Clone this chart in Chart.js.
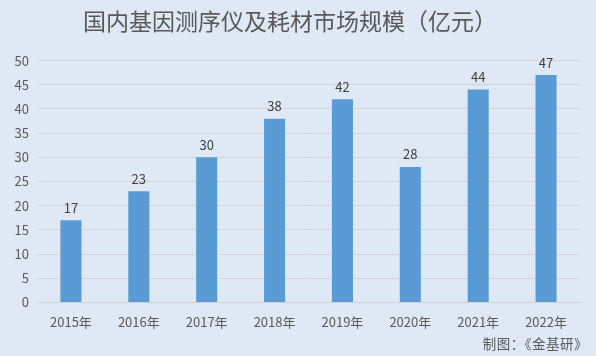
<!DOCTYPE html>
<html><head><meta charset="utf-8">
<script src="https://cdn.jsdelivr.net/npm/chart.js@4/dist/chart.umd.min.js"></script>
<style>
html,body{margin:0;padding:0;background:#dfe9f5;}
#wrap{position:relative;width:596px;height:356px;}
#foot{position:absolute;right:8px;top:333px;font:13.5px "Noto Sans CJK SC",sans-serif;color:#595959;letter-spacing:0.5px;}
</style></head>
<body><div id="wrap"><canvas id="c" width="596" height="356"></canvas><div id="foot">制图：《金基研》</div></div>
<script>
const categories = ["2015年","2016年","2017年","2018年","2019年","2020年","2021年","2022年"];
const values = [17,23,30,38,42,28,44,47];
const titleText = "国内基因测序仪及耗材市场规模（亿元）";
const FONT = '"Noto Sans CJK SC", "Liberation Sans", sans-serif';

const labelPlugin = {
  id:'labels',
  afterDatasetsDraw(chart){
    const ctx = chart.ctx;
    const meta = chart.getDatasetMeta(0);
    ctx.save();
    ctx.font = '13px ' + FONT;
    ctx.fillStyle = '#404040';
    ctx.textAlign = 'center';
    ctx.textBaseline = 'bottom';
    meta.data.forEach((bar,i)=>{
      ctx.fillText(String(values[i]), bar.x, bar.y - 6);
    });
    ctx.restore();
  }
};

new Chart(document.getElementById('c'), {
  type:'bar',
  data:{labels:categories, datasets:[{data:values, backgroundColor:'#5b9bd5', barPercentage:0.62, categoryPercentage:0.5}]},
  options:{
    responsive:false, animation:false,
    layout:{padding:{left:0,right:16,top:0,bottom:22}},
    plugins:{
      legend:{display:false}, tooltip:{enabled:false},
      title:{display:true, text:titleText, color:'#595959', font:{family:FONT,size:23,weight:'normal'}, padding:{top:7,bottom:26}}
    },
    scales:{
      x:{grid:{display:false}, border:{color:'#d0d0d0'}, ticks:{color:'#595959', font:{family:FONT,size:13}, padding:4}},
      y:{min:0,max:50, ticks:{stepSize:5, color:'#595959', font:{family:FONT,size:13}, padding:8},
         grid:{color:'#d4d4d4', drawTicks:false}, border:{display:false},
         afterFit(s){s.width=37;}}
    }
  },
  plugins:[labelPlugin]
});
</script></body></html>
